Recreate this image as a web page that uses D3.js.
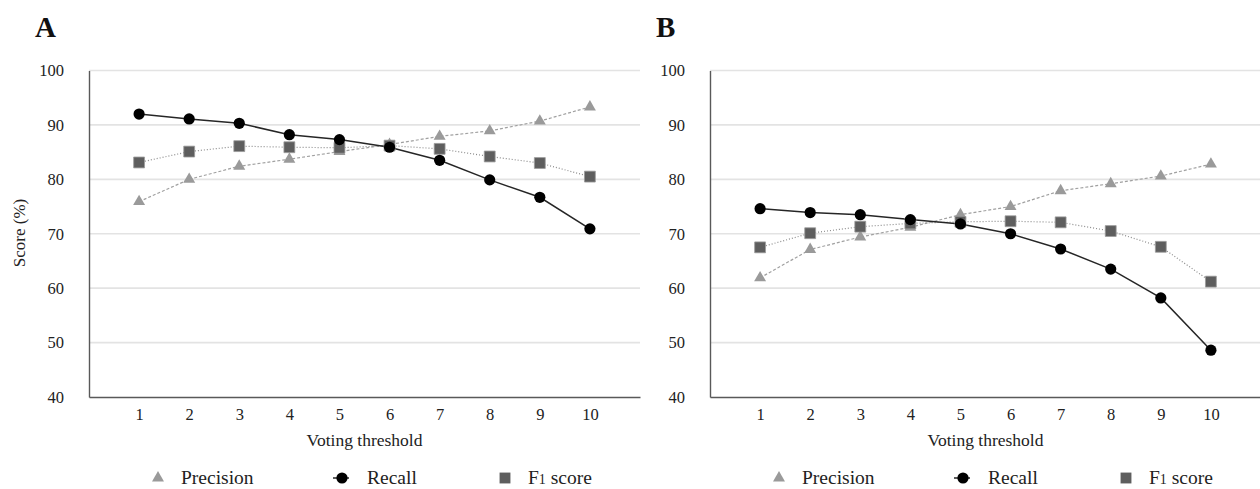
<!DOCTYPE html>
<html lang="en">
<head>
<meta charset="UTF-8">
<script src="https://cdnjs.cloudflare.com/ajax/libs/d3/7.9.0/d3.min.js"></script>
<title>Voting threshold scores</title>
<style>
  body { margin: 0; background: #fff; }
  svg { display: block; }
  svg text { font-family: "Liberation Serif", "Times New Roman", serif !important; }
</style>
</head>
<body>
<div id="content"></div>
<script>
  // data
  const thresholds = [1, 2, 3, 4, 5, 6, 7, 8, 9, 10];
  const yTicks = [40, 50, 60, 70, 80, 90, 100];

  const precisionA = [75.9, 80.0, 82.4, 83.7, 85.1, 86.4, 87.9, 88.9, 90.7, 93.3];
  const recallA = [92.0, 91.1, 90.3, 88.2, 87.3, 85.9, 83.5, 79.9, 76.7, 70.9];
  const f1A = [83.1, 85.1, 86.1, 85.9, 85.8, 86.2, 85.6, 84.2, 83.0, 80.5];

  const precisionB = [61.9, 67.1, 69.4, 71.2, 73.5, 75.0, 77.9, 79.2, 80.6, 82.8];
  const recallB = [74.6, 73.9, 73.5, 72.6, 71.8, 70.0, 67.2, 63.5, 58.2, 48.6];
  const f1B = [67.5, 70.1, 71.3, 71.9, 72.2, 72.3, 72.1, 70.5, 67.6, 61.2];

  const width = 1260;
  const height = 489;

  const svg = d3.select("#content").append("svg")
    .attr("width", width)
    .attr("height", height);

  const y = d3.scaleLinear().domain([40, 100]).range([397, 70.5]);

  const triangle = d3.symbol().type(d3.symbolTriangle).size(62);
  const square = d3.symbol().type(d3.symbolSquare).size(118);

  function drawPanel(letter, left, right, precision, recall, f1, showYLabel) {
    const g = svg.append("g");
    const x = d3.scaleLinear().domain([0, 11]).range([left, right]);

    // gridlines
    g.selectAll("line.grid")
      .data(yTicks.filter(d => d > 40))
      .enter().append("line")
      .attr("class", "grid")
      .attr("x1", left).attr("x2", right)
      .attr("y1", d => y(d)).attr("y2", d => y(d))
      .attr("stroke", "#e3e3e3")
      .attr("stroke-width", 1.6);

    // y axis
    const yAxis = d3.axisLeft(y).tickValues(yTicks).tickSize(0).tickPadding(25);
    const ya = g.append("g").attr("transform", `translate(${left},0)`).call(yAxis);
    ya.select(".domain").attr("stroke", "#595959").attr("stroke-width", 1.4);
    ya.selectAll("text").attr("font-size", 16.5).attr("fill", "#222");

    // x axis
    const xAxis = d3.axisBottom(x).tickValues(thresholds).tickSize(0).tickPadding(11)
      .tickFormat(d3.format("d"));
    const xa = g.append("g").attr("transform", `translate(0,${y(40)})`).call(xAxis);
    xa.select(".domain").attr("stroke", "#595959").attr("stroke-width", 1.4);
    xa.selectAll("text").attr("font-size", 16.5).attr("fill", "#222");

    const line = d3.line().x((d, i) => x(thresholds[i])).y(d => y(d));

    // precision: dashed gray
    g.append("path").datum(precision).attr("d", line)
      .attr("fill", "none").attr("stroke", "#a0a0a0")
      .attr("stroke-width", 1.2).attr("stroke-dasharray", "3,2");
    // f1: dotted
    g.append("path").datum(f1).attr("d", line)
      .attr("fill", "none").attr("stroke", "#8c8c8c")
      .attr("stroke-width", 1.2).attr("stroke-dasharray", "1,2");
    // recall: solid
    g.append("path").datum(recall).attr("d", line)
      .attr("fill", "none").attr("stroke", "#262626")
      .attr("stroke-width", 1.5);

    g.selectAll("path.tri").data(precision).enter().append("path")
      .attr("class", "tri")
      .attr("d", triangle)
      .attr("transform", (d, i) => `translate(${x(thresholds[i])},${y(d)})`)
      .attr("fill", "#9a9a9a");

    g.selectAll("path.sq").data(f1).enter().append("path")
      .attr("class", "sq")
      .attr("d", square)
      .attr("transform", (d, i) => `translate(${x(thresholds[i])},${y(d)})`)
      .attr("fill", "#5e5e5e").attr("stroke", "#9a9a9a").attr("stroke-width", 0.8);

    g.selectAll("circle.rec").data(recall).enter().append("circle")
      .attr("class", "rec")
      .attr("cx", (d, i) => x(thresholds[i]))
      .attr("cy", d => y(d))
      .attr("r", 5.6)
      .attr("fill", "#000");

    // panel letter
    g.append("text")
      .attr("x", left - 54).attr("y", 37)
      .attr("font-size", 29).attr("font-weight", "bold")
      .attr("fill", "#111")
      .text(letter);

    // axis titles
    g.append("text")
      .attr("x", (left + right) / 2).attr("y", 446)
      .attr("text-anchor", "middle")
      .attr("font-size", 17.5).attr("fill", "#222")
      .text("Voting threshold");

    if (showYLabel) {
      g.append("text")
        .attr("transform", `translate(${left - 64},233) rotate(-90)`)
        .attr("text-anchor", "middle")
        .attr("font-size", 17).attr("fill", "#222")
        .text("Score (%)");
    }

    // legend
    const ly = 478;
    const lg = g.append("g").attr("font-size", 19.5).attr("fill", "#222");
    lg.append("path").attr("d", triangle)
      .attr("transform", `translate(${left + 69},${ly})`)
      .attr("fill", "#9a9a9a");
    lg.append("text").attr("x", left + 92).attr("y", ly + 6).text("Precision");

    lg.append("line")
      .attr("x1", left + 244).attr("x2", left + 260)
      .attr("y1", ly).attr("y2", ly)
      .attr("stroke", "#262626").attr("stroke-width", 1.5);
    lg.append("circle").attr("cx", left + 253).attr("cy", ly).attr("r", 5.6).attr("fill", "#000");
    lg.append("text").attr("x", left + 278).attr("y", ly + 6).text("Recall");

    lg.append("path").attr("d", square)
      .attr("transform", `translate(${left + 416},${ly})`)
      .attr("fill", "#5e5e5e");
    const ft = lg.append("text").attr("x", left + 439).attr("y", ly + 6);
    ft.append("tspan").text("F");
    ft.append("tspan").attr("font-size", 14).text("1");
    ft.append("tspan").text(" score");
  }

  drawPanel("A", 89, 640, precisionA, recallA, f1A, true);
  drawPanel("B", 710, 1261, precisionB, recallB, f1B, false);
</script>
</body>
</html>
